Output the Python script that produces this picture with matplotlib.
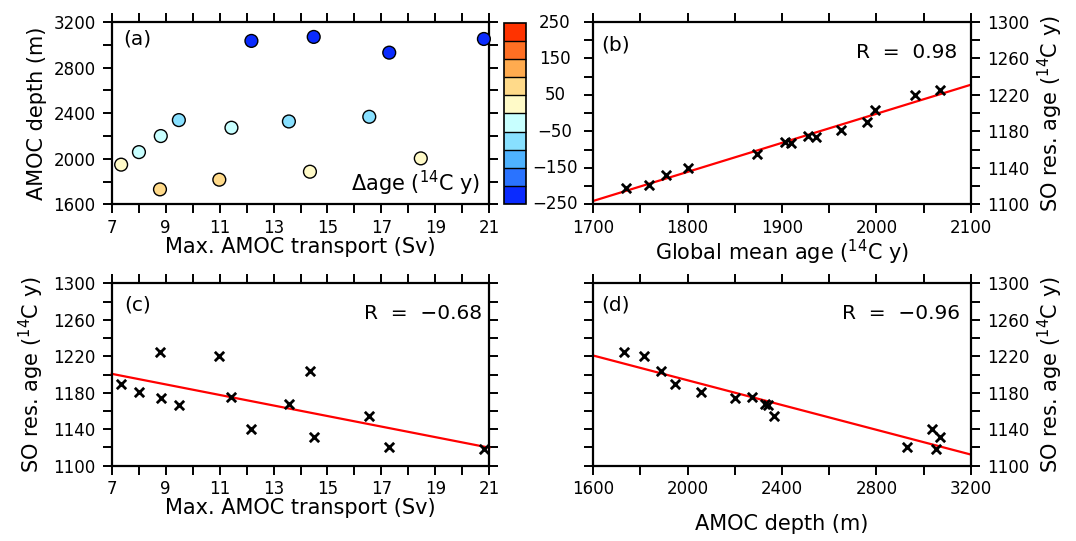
import numpy as np
import matplotlib
matplotlib.use("Agg")
import matplotlib.pyplot as plt
import matplotlib.transforms as mtransforms
from matplotlib.colors import ListedColormap, BoundaryNorm
from matplotlib.ticker import FixedLocator, FuncFormatter, NullFormatter

plt.rcParams['font.family'] = ['DejaVu Sans']
plt.rcParams['mathtext.default'] = 'regular'

# model runs
transport = [7.35, 8.01, 8.82, 8.79, 9.49, 10.99, 11.44, 12.18, 13.57, 14.35, 14.49, 16.55, 17.29, 18.46, 20.80]
depth = [1948, 2058, 2199, 1731, 2339, 1816, 2272, 3034, 2327, 1886, 3069, 2368, 2931, 2003, 3051]
dage = [25, -25, -25, 75, -75, 75, -25, -225, -75, 25, -225, -75, -225, 25, -225]
so_age = [1190, 1181, 1174, 1225, 1167, 1220, 1175, 1140, 1168, 1204, 1132, 1155, 1121, np.nan, 1118]
glob_age = [1990, 1963, 1936, 2067, 1910, 2041, 1928, 1800, 1903, 1999, 1777, 1874, 1759, np.nan, 1735]
r_values = [0.98, -0.68, -0.96]

levels = np.arange(-250, 251, 50)
colors = ['#0a2bff', '#2a73ff', '#4eb2ff', '#88e0ff', '#c8ffff',
          '#fffac8', '#ffda8a', '#ffab4f', '#ff6f23', '#ff3300']
cmap = ListedColormap(colors)
norm = BoundaryNorm(levels, cmap.N)

W, H = 1076, 541
fig = plt.figure(figsize=(W / 100, H / 100), dpi=100)


def box(x0, x1, y0, y1):
    return [x0 / W, 1 - y1 / H, (x1 - x0) / W, (y1 - y0) / H]


ax_a = fig.add_axes(box(111.7, 489.3, 22, 204.3))
ax_b = fig.add_axes(box(593.3, 970.7, 22, 204.3))
ax_c = fig.add_axes(box(111.7, 489.3, 283.3, 465.7))
ax_d = fig.add_axes(box(593.3, 970.7, 283.3, 465.7))
cax = fig.add_axes(box(504, 526, 22.5, 204.3))

tick_fs = 12
lab_fs = 15
txt_fs = 14.5
age_lab = r'SO res. age ($^{14}$C y)'
fmt = FuncFormatter(lambda v, p: '%d' % round(v))


def style(ax, xr, xstep, yr, ystep, yright=False):
    ax.set_xlim(xr)
    ax.set_ylim(yr)
    ax.xaxis.set_major_locator(FixedLocator(np.arange(xr[0], xr[1] + 1, 2 * xstep)))
    ax.xaxis.set_minor_locator(FixedLocator(np.arange(xr[0] + xstep, xr[1], 2 * xstep)))
    ax.yaxis.set_major_locator(FixedLocator(np.arange(yr[0], yr[1] + 1, 2 * ystep)))
    ax.yaxis.set_minor_locator(FixedLocator(np.arange(yr[0] + ystep, yr[1], 2 * ystep)))
    ax.xaxis.set_major_formatter(fmt)
    ax.yaxis.set_major_formatter(fmt)
    ax.tick_params(which='both', direction='out', length=6.5, width=1.4,
                   top=True, right=True, labelsize=tick_fs, pad=5)
    ax.tick_params(axis='x', pad=4)
    if yright:
        ax.tick_params(axis='y', which='both', labelleft=False, labelright=True)
        ax.yaxis.set_label_position('right')
    for s in ax.spines.values():
        s.set_linewidth(1.6)


def fit_line(ax, x, y):
    x = np.asarray(x, float)
    y = np.asarray(y, float)
    ok = ~np.isnan(x) & ~np.isnan(y)
    k, b = np.polyfit(x[ok], y[ok], 1)
    xl = np.array(ax.get_xlim())
    ax.plot(xl, k * xl + b, color='#ff0000', lw=1.6, zorder=2, clip_on=False)


def put_r(ax, x, r):
    s = ('R  =  %.2f' % r).replace('-', '\u2212')
    ax.text(x, 0.835, s, transform=ax.transAxes, fontsize=txt_fs, va='center', ha='right')


# (a)
ax_a.scatter(transport, depth, c=dage, cmap=cmap, norm=norm, s=85,
             edgecolors='black', linewidths=1.0, zorder=3, clip_on=False)
style(ax_a, (7, 21), 1, (1600, 3200), 200)
ax_a.set_xlabel('Max. AMOC transport (Sv)', fontsize=lab_fs, labelpad=0)
ax_a.set_ylabel('AMOC depth (m)', fontsize=lab_fs, labelpad=5)
ax_a.text(0.03, 0.905, '(a)', transform=ax_a.transAxes, fontsize=txt_fs, va='center', ha='left')
ax_a.text(0.975, 0.115, r'$\Delta$age ($^{14}$C y)', transform=ax_a.transAxes,
          fontsize=15, va='center', ha='right')

cb = fig.colorbar(matplotlib.cm.ScalarMappable(norm=norm, cmap=cmap), cax=cax,
                  boundaries=levels, ticks=[], drawedges=True)
cb.outline.set_linewidth(1.2)
cb.dividers.set_linewidth(1.0)
cax.yaxis.set_minor_formatter(NullFormatter())
cax.tick_params(which='both', length=0)
trans = mtransforms.blended_transform_factory(cax.transAxes, cax.transData)
for v in levels[::2]:
    cax.text(2.32, v, ('%d' % v).replace('-', '\u2212'), transform=trans,
             fontsize=tick_fs, ha='center', va='center')

# (b)
ax_b.scatter(glob_age, so_age, marker='x', color='black', s=45, linewidths=2, zorder=3)
style(ax_b, (1700, 2100), 50, (1100, 1300), 20, yright=True)
fit_line(ax_b, glob_age, so_age)
ax_b.set_xlabel(r'Global mean age ($^{14}$C y)', fontsize=lab_fs, labelpad=1)
ax_b.set_ylabel(age_lab, fontsize=lab_fs, labelpad=5)
ax_b.text(0.022, 0.875, '(b)', transform=ax_b.transAxes, fontsize=txt_fs, va='center', ha='left')
put_r(ax_b, 0.964, r_values[0])

# (c)
ax_c.scatter(transport, so_age, marker='x', color='black', s=45, linewidths=2, zorder=3)
style(ax_c, (7, 21), 1, (1100, 1300), 20)
fit_line(ax_c, transport, so_age)
ax_c.set_xlabel('Max. AMOC transport (Sv)', fontsize=lab_fs, labelpad=0)
ax_c.set_ylabel(age_lab, fontsize=lab_fs, labelpad=5)
ax_c.text(0.033, 0.88, '(c)', transform=ax_c.transAxes, fontsize=txt_fs, va='center', ha='left')
put_r(ax_c, 0.981, r_values[1])

# (d)
ax_d.scatter(depth, so_age, marker='x', color='black', s=45, linewidths=2, zorder=3)
style(ax_d, (1600, 3200), 200, (1100, 1300), 20, yright=True)
fit_line(ax_d, depth, so_age)
ax_d.set_xlabel('AMOC depth (m)', fontsize=lab_fs, labelpad=11)
ax_d.set_ylabel(age_lab, fontsize=lab_fs, labelpad=5)
ax_d.text(0.022, 0.88, '(d)', transform=ax_d.transAxes, fontsize=txt_fs, va='center', ha='left')
put_r(ax_d, 0.972, r_values[2])

fig.savefig('out.png', dpi=100)
